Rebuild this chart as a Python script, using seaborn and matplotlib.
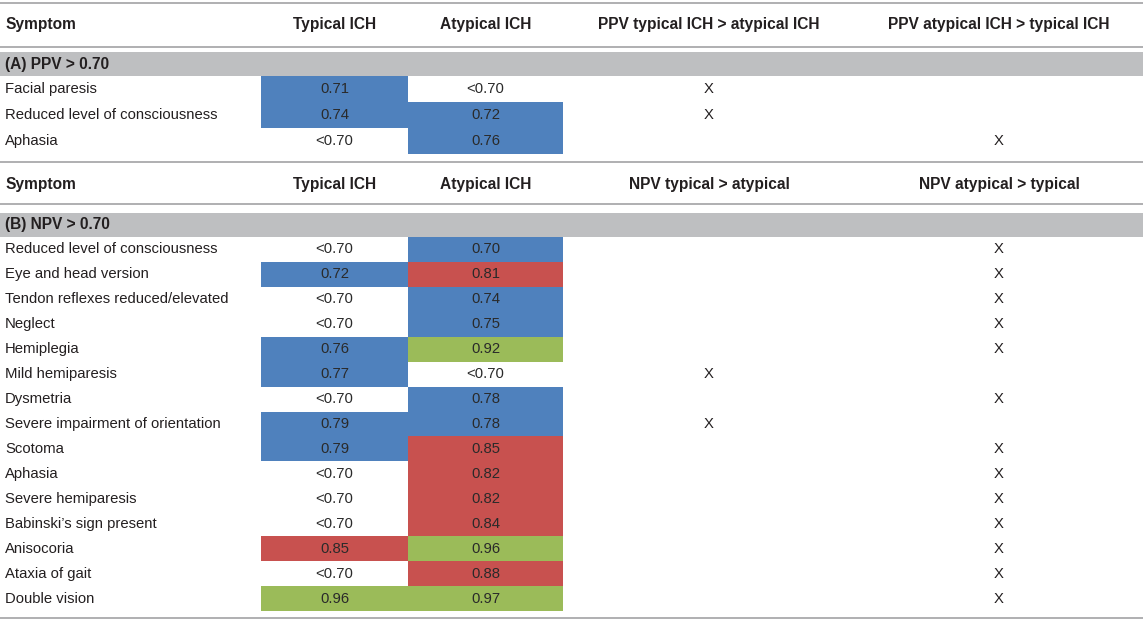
"""
Table of PPV / NPV values for typical vs atypical ICH, drawn with seaborn heatmaps.
"""
import numpy as np
import seaborn as sns
import matplotlib.pyplot as plt
from matplotlib.colors import ListedColormap

# ── Data ───────────────────────────────────────────────────────
NA = np.nan

symptoms_a = ["Facial paresis", "Reduced level of consciousness", "Aphasia"]
typical_a = [0.71, 0.74, NA]
atypical_a = [NA, 0.72, 0.76]
ppv_typ_gt_atyp = [True, True, False]
ppv_atyp_gt_typ = [False, False, True]

symptoms_b = [
    "Reduced level of consciousness", "Eye and head version",
    "Tendon reflexes reduced/elevated", "Neglect", "Hemiplegia",
    "Mild hemiparesis", "Dysmetria", "Severe impairment of orientation",
    "Scotoma", "Aphasia", "Severe hemiparesis", "Babinski\u2019s sign present",
    "Anisocoria", "Ataxia of gait", "Double vision",
]
typical_b = [NA, 0.72, NA, NA, 0.76, 0.77, NA, 0.79, 0.79, NA, NA, NA, 0.85, NA, 0.96]
atypical_b = [0.70, 0.81, 0.74, 0.75, 0.92, NA, 0.78, 0.78, 0.85, 0.82, 0.82, 0.84, 0.96, 0.88, 0.97]
npv_typ_gt_atyp = [False, False, False, False, False, True, False, True,
                   False, False, False, False, False, False, False]
npv_atyp_gt_typ = [not v for v in npv_typ_gt_atyp]

header_a = ["Symptom", "Typical ICH", "Atypical ICH",
            "PPV typical ICH > atypical ICH", "PPV atypical ICH > typical ICH"]
header_b = ["Symptom", "Typical ICH", "Atypical ICH",
            "NPV typical > atypical", "NPV atypical > typical"]
band_a = "(A) PPV > 0.70"
band_b = "(B) NPV > 0.70"

# ── Style ──────────────────────────────────────────────────────
W, H = 1143, 620
FONT = ["Liberation Sans", "DejaVu Sans"]
TXT = "#231f20"
LINE = "#a9a9ab"
BAND = "#bebfc1"
CELL_COLORS = ["#ffffff", "#4f81bd", "#c8514f", "#9bbb59"]
FS = 10.7
FS_HEAD = 11.2

X_SYM = 5
X_COLS = [334.5, 485.5, 709, 999]
CELL_EDGES = [261, 408, 563]  # typical | atypical column bounds (px)


def category(v):
    if np.isnan(v):
        return 0
    if v < 0.80:
        return 1
    if v < 0.90:
        return 2
    return 3


def label(v):
    return "<0.70" if np.isnan(v) else f"{v:.2f}"


def px_axes(fig, x0, y0, x1, y1):
    return fig.add_axes([x0 / W, 1 - y1 / H, (x1 - x0) / W, (y1 - y0) / H])


def draw_block(fig, ax, header, band, symptoms, typ, atyp, mark_l, mark_r,
               y_head, y_line, band_y0, band_y1, cell_y1):
    ax.text(X_SYM, y_head, header[0], ha="left", va="center",
            fontsize=FS_HEAD, fontweight="bold", color=TXT, family=FONT)
    for x, h in zip(X_COLS, header[1:]):
        ax.text(x, y_head, h, ha="center", va="center",
                fontsize=FS_HEAD, fontweight="bold", color=TXT, family=FONT)
    ax.axhline(y_line, color=LINE, lw=1.3)
    ax.axhspan(band_y0, band_y1, color=BAND, lw=0)
    ax.text(X_SYM, (band_y0 + band_y1) / 2, band, ha="left", va="center",
            fontsize=FS_HEAD, fontweight="bold", color=TXT, family=FONT)

    n = len(symptoms)
    row_h = (cell_y1 - band_y1) / n
    for i, s in enumerate(symptoms):
        yc = band_y1 + row_h * (i + 0.5)
        ax.text(X_SYM, yc, s, ha="left", va="center",
                fontsize=FS, color=TXT, family=FONT)
        if mark_l[i]:
            ax.text(X_COLS[2], yc, "X", ha="center", va="center",
                    fontsize=FS, color=TXT, family=FONT)
        if mark_r[i]:
            ax.text(X_COLS[3], yc, "X", ha="center", va="center",
                    fontsize=FS, color=TXT, family=FONT)

    # one single-column heatmap per value column
    for j, col in enumerate([typ, atyp]):
        cats = np.array([[category(v)] for v in col])
        labels = np.array([[label(v)] for v in col])
        hax = px_axes(fig, CELL_EDGES[j], band_y1, CELL_EDGES[j + 1], cell_y1)
        sns.heatmap(
            cats, ax=hax, cmap=ListedColormap(CELL_COLORS), vmin=-0.5, vmax=3.5,
            annot=labels, fmt="", cbar=False, xticklabels=False, yticklabels=False,
            annot_kws={"color": "#2a2a2a", "fontsize": FS, "family": FONT},
        )
        hax.patch.set_alpha(0)


fig = plt.figure(figsize=(W / 100, H / 100), dpi=100)
ax = fig.add_axes([0, 0, 1, 1])
ax.set_xlim(0, W)
ax.set_ylim(H, 0)
ax.axis("off")

ax.axhline(3, color=LINE, lw=1.3)
draw_block(fig, ax, header_a, band_a, symptoms_a, typical_a, atypical_a,
           ppv_typ_gt_atyp, ppv_atyp_gt_typ,
           y_head=24, y_line=46.5, band_y0=52, band_y1=76, cell_y1=154)
ax.axhline(162, color=LINE, lw=1.3)
draw_block(fig, ax, header_b, band_b, symptoms_b, typical_b, atypical_b,
           npv_typ_gt_atyp, npv_atyp_gt_typ,
           y_head=184, y_line=203.5, band_y0=213, band_y1=237, cell_y1=611)
ax.axhline(617.5, color=LINE, lw=1.3)

fig.savefig("out.png", dpi=100)
